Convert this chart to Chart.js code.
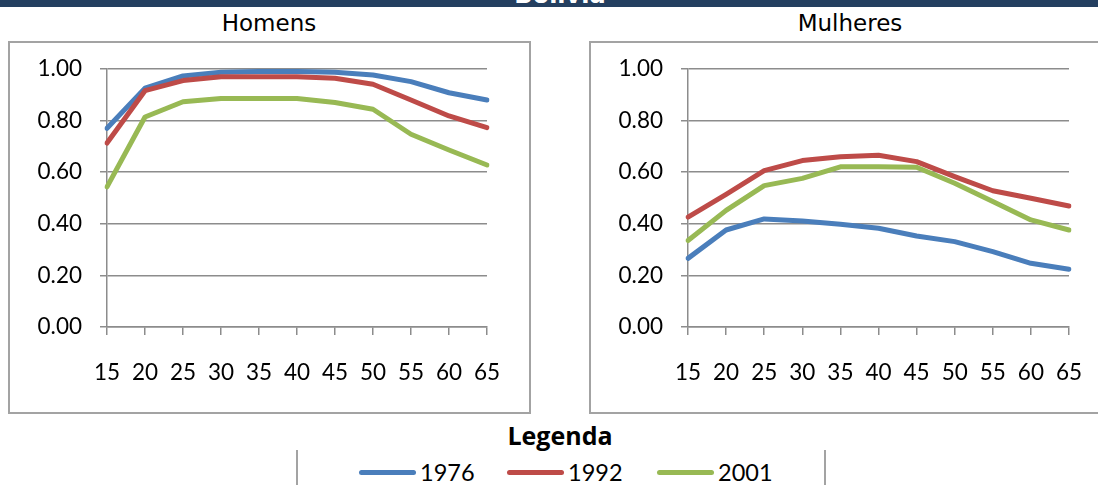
<!DOCTYPE html>
<html lang="pt">
<head>
<meta charset="utf-8">
<title>Bolivia – Taxas de participação por idade</title>
<script src="https://cdn.jsdelivr.net/npm/chart.js@4.4.1/dist/chart.umd.min.js"></script>
<style>
  html, body { margin: 0; padding: 0; background: #fff; }
  body { width: 1098px; height: 485px; overflow: hidden; position: relative; }
  .topbar { position: absolute; left: 0; top: 0; width: 1098px; height: 7px; background: #243F60; overflow: hidden; }
  .topbar span { position: absolute; left: 0; width: 1120px; top: -17px; text-align: center;
    font: bold 24px "DejaVu Sans", sans-serif; line-height: 24px; color: #fff; }
  .frame { position: absolute; top: 41px; height: 373px; box-sizing: border-box; border: 2px solid #a3a3a3; }
  .panel-title { position: absolute; top: 10px; width: 522px; text-align: center;
    font: 23px "DejaVu Sans", sans-serif; line-height: 27px; color: #000; }
  .chart-box { position: absolute; top: 0; width: 522px; height: 413px; }
  .legend-title { position: absolute; left: 0; width: 1120px; top: 418px; text-align: center;
    font: bold 25px "Open Sans", sans-serif; line-height: 34px; color: #000; }
  .legend-rule { position: absolute; top: 450px; width: 2px; height: 40px; background: #a3a3a3; }
  .legend-item { position: absolute; top: 457px; height: 30px; }
  .legend-item .swatch { position: absolute; left: 0; top: 13px; width: 57px; height: 5px; border-radius: 3px; }
  .legend-item .label { position: absolute; left: 61px; top: 0; font: 23.5px Lato, sans-serif; line-height: 30px; color: #000; }
</style>
</head>
<body>
<div class="topbar"><span>Bolivia</span></div>

<div class="frame" style="left:8px; width:523px;"></div>
<div class="frame" style="left:589px; width:523px;"></div>

<div class="panel-title" style="left:8px;">Homens</div>
<div class="panel-title" style="left:589px;">Mulheres</div>

<div class="chart-box" style="left:8px;"><canvas id="homens" width="522" height="413"></canvas></div>
<div class="chart-box" style="left:589px;"><canvas id="mulheres" width="522" height="413"></canvas></div>

<div class="legend-title">Legenda</div>
<div class="legend-rule" style="left:296px;"></div>
<div class="legend-rule" style="left:824px;"></div>
<div id="legend"></div>

<script>
// Age groups (x axis categories)
const ageLabels = ['15', '20', '25', '30', '35', '40', '45', '50', '55', '60', '65'];

// Census years and their line colours
const seriesNames = ['1976', '1992', '2001'];
const seriesColors = ['#4A7EBB', '#BE4B48', '#98B954'];

// Participation rates, men
const homens1976 = [0.770, 0.926, 0.973, 0.987, 0.990, 0.990, 0.987, 0.977, 0.951, 0.908, 0.880];
const homens1992 = [0.713, 0.916, 0.955, 0.970, 0.970, 0.970, 0.964, 0.941, 0.880, 0.818, 0.773];
const homens2001 = [0.543, 0.814, 0.873, 0.886, 0.886, 0.886, 0.870, 0.844, 0.747, 0.686, 0.628];

// Participation rates, women
const mulheres1976 = [0.266, 0.376, 0.419, 0.411, 0.398, 0.383, 0.353, 0.331, 0.292, 0.247, 0.224];
const mulheres1992 = [0.426, 0.514, 0.606, 0.645, 0.660, 0.666, 0.641, 0.583, 0.528, 0.499, 0.469];
const mulheres2001 = [0.335, 0.452, 0.548, 0.576, 0.621, 0.621, 0.619, 0.557, 0.486, 0.415, 0.376];

// Y axis tick values
const yTicks = [0, 0.2, 0.4, 0.6, 0.8, 1.0];

const gridColor = '#8c8c8c';
const tickFont = { family: 'Lato', size: 22.5 };

function buildChart(canvasId, seriesValues, rightPad) {
  const datasets = seriesValues.map((values, i) => ({
    label: seriesNames[i],
    data: values,
    borderColor: seriesColors[i],
    backgroundColor: seriesColors[i],
    borderWidth: 5,
    pointRadius: 0,
    pointHoverRadius: 0,
    tension: 0,
    borderCapStyle: 'round',
    borderJoinStyle: 'round',
    fill: false,
    // later years are painted over earlier ones
    order: seriesValues.length - i
  }));

  return new Chart(document.getElementById(canvasId), {
    type: 'line',
    data: { labels: ageLabels, datasets },
    options: {
      responsive: false,
      animation: false,
      events: [],
      layout: { padding: { left: 0, right: rightPad, top: 69, bottom: 0 } },
      plugins: { legend: { display: false }, tooltip: { enabled: false }, title: { display: false } },
      scales: {
        x: {
          type: 'category',
          offset: false,
          grid: { display: true, drawOnChartArea: false, drawTicks: true, tickLength: 8, color: gridColor, lineWidth: 1.5 },
          border: { display: true, color: gridColor, width: 1.5 },
          ticks: { color: '#000', font: tickFont, padding: 24, maxRotation: 0, autoSkip: false },
          afterFit: s => { s.height = 86; }
        },
        y: {
          type: 'linear',
          min: yTicks[0],
          max: yTicks[yTicks.length - 1],
          afterBuildTicks: s => { s.ticks = yTicks.map(v => ({ value: v })); },
          grid: { display: true, drawOnChartArea: true, drawTicks: true, tickLength: 7, color: gridColor, lineWidth: 1.5 },
          border: { display: true, color: gridColor, width: 1.5 },
          ticks: { color: '#000', font: tickFont, padding: 18, callback: v => Number(v).toFixed(2) },
          afterFit: s => { s.width = 99; }
        }
      }
    }
  });
}

buildChart('homens', [homens1976, homens1992, homens2001], 43);
buildChart('mulheres', [mulheres1976, mulheres1992, mulheres2001], 42);

// Shared legend below both panels
const legendEl = document.getElementById('legend');
const legendLeft = [359, 507, 657];
seriesNames.forEach((name, i) => {
  const item = document.createElement('div');
  item.className = 'legend-item';
  item.style.left = legendLeft[i] + 'px';
  const sw = document.createElement('span');
  sw.className = 'swatch';
  sw.style.background = seriesColors[i];
  const lb = document.createElement('span');
  lb.className = 'label';
  lb.textContent = name;
  item.appendChild(sw);
  item.appendChild(lb);
  legendEl.appendChild(item);
});
</script>
</body>
</html>
